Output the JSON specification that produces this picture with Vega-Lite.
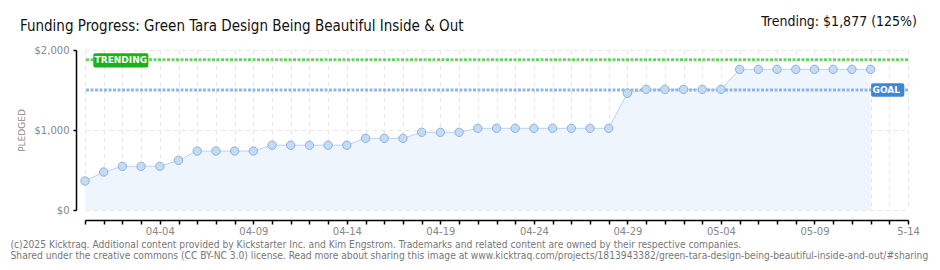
{
  "$schema": "https://vega.github.io/schema/vega-lite/v6.json",
  "width": 823,
  "height": 160,
  "autosize": "none",
  "padding": {"left": 85, "top": 50, "right": 32, "bottom": 60},
  "background": "white",
  "title": {
    "text": "Funding Progress: Green Tara Design Being Beautiful Inside & Out",
    "anchor": "start",
    "frame": "group",
    "dx": -65,
    "offset": -31,
    "baseline": "alphabetic",
    "font": "Liberation Sans Narrow, DejaVu Sans Condensed, sans-serif",
    "fontSize": 15,
    "fontWeight": "normal",
    "color": "#111111"
  },
  "config": {
    "view": {"stroke": null},
    "axis": {"labelFont": "DejaVu Sans", "titleFont": "DejaVu Sans"}
  },
  "datasets": {
    "pledges": [
      {"date": "2025-03-31", "pledged": 362},
      {"date": "2025-04-01", "pledged": 475},
      {"date": "2025-04-02", "pledged": 546},
      {"date": "2025-04-03", "pledged": 546},
      {"date": "2025-04-04", "pledged": 546},
      {"date": "2025-04-05", "pledged": 621},
      {"date": "2025-04-06", "pledged": 737},
      {"date": "2025-04-07", "pledged": 737},
      {"date": "2025-04-08", "pledged": 737},
      {"date": "2025-04-09", "pledged": 737},
      {"date": "2025-04-10", "pledged": 810},
      {"date": "2025-04-11", "pledged": 810},
      {"date": "2025-04-12", "pledged": 810},
      {"date": "2025-04-13", "pledged": 810},
      {"date": "2025-04-14", "pledged": 810},
      {"date": "2025-04-15", "pledged": 896},
      {"date": "2025-04-16", "pledged": 896},
      {"date": "2025-04-17", "pledged": 896},
      {"date": "2025-04-18", "pledged": 971},
      {"date": "2025-04-19", "pledged": 971},
      {"date": "2025-04-20", "pledged": 971},
      {"date": "2025-04-21", "pledged": 1021},
      {"date": "2025-04-22", "pledged": 1021},
      {"date": "2025-04-23", "pledged": 1021},
      {"date": "2025-04-24", "pledged": 1021},
      {"date": "2025-04-25", "pledged": 1021},
      {"date": "2025-04-26", "pledged": 1021},
      {"date": "2025-04-27", "pledged": 1021},
      {"date": "2025-04-28", "pledged": 1021},
      {"date": "2025-04-29", "pledged": 1460},
      {"date": "2025-04-30", "pledged": 1508},
      {"date": "2025-05-01", "pledged": 1508},
      {"date": "2025-05-02", "pledged": 1508},
      {"date": "2025-05-03", "pledged": 1508},
      {"date": "2025-05-04", "pledged": 1508},
      {"date": "2025-05-05", "pledged": 1758},
      {"date": "2025-05-06", "pledged": 1758},
      {"date": "2025-05-07", "pledged": 1758},
      {"date": "2025-05-08", "pledged": 1758},
      {"date": "2025-05-09", "pledged": 1758},
      {"date": "2025-05-10", "pledged": 1758},
      {"date": "2025-05-11", "pledged": 1758},
      {"date": "2025-05-12", "pledged": 1758}
    ],
    "refs": [
      {"name": "Trending", "amount": 1877},
      {"name": "Goal", "amount": 1500}
    ],
    "header": [
      {"label": "Trending: $1,877 (125%)"}
    ],
    "one": [{}]
  },
  "layer": [
    {
      "data": {"name": "pledges"},
      "mark": {"type": "area", "color": "#eef5fd", "opacity": 1},
      "encoding": {
        "x": {
          "field": "date",
          "type": "temporal",
          "scale": {
            "type": "utc",
            "domain": [
              {"year": 2025, "month": 3, "date": 31, "utc": true},
              {"year": 2025, "month": 5, "date": 14, "utc": true}
            ]
          },
          "axis": {
            "offset": 10,
            "tickCount": {"interval": "day", "step": 1},
            "labelExpr": "indexof(['04-04','04-09','04-14','04-19','04-24','04-29','05-04','05-09'], utcFormat(datum.value,'%m-%d')) >= 0 ? utcFormat(datum.value,'%m-%d') : (utcFormat(datum.value,'%m-%d') == '05-14' ? '5-14' : '')",
            "labelOverlap": false,
            "labelFlush": false,
            "labelColor": "#888888",
            "labelFontSize": 10,
            "labelPadding": 2,
            "domainColor": "#000000",
            "domainWidth": 1.5,
            "tickColor": "#000000",
            "tickSize": 4,
            "tickWidth": 1.5,
            "grid": true,
            "gridColor": "#e6e6e6",
            "gridDash": [4, 4],
            "title": [
              "(c)2025 Kicktraq. Additional content provided by Kickstarter Inc. and Kim Engstrom. Trademarks and related content are owned by their respective companies.",
              "Shared under the creative commons (CC BY-NC 3.0) license. Read more about sharing this image at www.kicktraq.com/projects/1813943382/green-tara-design-being-beautiful-inside-and-out/#sharing"
            ],
            "titleAnchor": "start",
            "titleAlign": "left",
            "titleBaseline": "alphabetic",
            "titleX": -75,
            "titleY": 27,
            "titleLineHeight": 11,
            "titleFont": "DejaVu Sans Condensed, DejaVu Sans",
            "titleFontSize": 10.2,
            "titleFontWeight": "normal",
            "titleColor": "#777777"
          }
        },
        "y": {
          "field": "pledged",
          "type": "quantitative",
          "scale": {"domain": [0, 2000], "nice": false, "zero": true},
          "axis": {
            "offset": 9,
            "values": [0, 500, 1000, 1500, 2000],
            "format": "$,d",
            "labelOverlap": false,
            "labelColor": "#888888",
            "labelFontSize": 10,
            "labelPadding": 4,
            "domainColor": "#000000",
            "domainWidth": 1.5,
            "tickColor": "#000000",
            "tickSize": 3,
            "tickWidth": 1.5,
            "grid": true,
            "gridColor": "#e6e6e6",
            "gridDash": [4, 4],
            "title": "PLEDGED",
            "titleColor": "#888888",
            "titleFontSize": 9,
            "titleFontWeight": "normal",
            "titlePadding": 8
          }
        }
      }
    },
    {
      "data": {"name": "pledges"},
      "mark": {"type": "line", "color": "#b8d4f3", "strokeWidth": 1},
      "encoding": {
        "x": {"field": "date", "type": "temporal"},
        "y": {"field": "pledged", "type": "quantitative"}
      }
    },
    {
      "data": {"name": "refs"},
      "mark": {"type": "rule", "strokeWidth": 3, "strokeDash": [3, 1.5]},
      "encoding": {
        "y": {"field": "amount", "type": "quantitative"},
        "color": {
          "field": "name",
          "type": "nominal",
          "scale": {"domain": ["Trending", "Goal"], "range": ["#66d45e", "#94b6de"]},
          "legend": null
        }
      }
    },
    {
      "data": {"name": "pledges"},
      "mark": {"type": "point", "filled": true, "size": 70, "fill": "#c4dbf6", "stroke": "#8fb0d8", "strokeWidth": 1, "opacity": 1},
      "encoding": {
        "x": {"field": "date", "type": "temporal"},
        "y": {"field": "pledged", "type": "quantitative"}
      }
    },
    {
      "data": {"name": "one"},
      "mark": {"type": "rect", "color": "#17b317", "cornerRadius": 2},
      "encoding": {
        "x": {"datum": {"year": 2025, "month": 3, "date": 31, "hours": 10, "minutes": 40, "utc": true}, "type": "temporal"},
        "x2": {"datum": {"year": 2025, "month": 4, "date": 3, "hours": 9, "minutes": 20, "utc": true}},
        "y": {"datum": 1960, "type": "quantitative"},
        "y2": {"datum": 1780}
      }
    },
    {
      "data": {"name": "one"},
      "mark": {"type": "text", "text": "TRENDING", "color": "white", "font": "DejaVu Sans", "fontSize": 9, "fontWeight": "bold", "align": "center", "baseline": "middle"},
      "encoding": {
        "x": {"datum": {"year": 2025, "month": 4, "date": 1, "hours": 22, "utc": true}, "type": "temporal"},
        "y": {"datum": 1870, "type": "quantitative"}
      }
    },
    {
      "data": {"name": "one"},
      "mark": {"type": "rect", "color": "#3c87d6", "cornerRadius": 2},
      "encoding": {
        "x": {"datum": {"year": 2025, "month": 5, "date": 12, "hours": 0, "minutes": 40, "utc": true}, "type": "temporal"},
        "x2": {"datum": {"year": 2025, "month": 5, "date": 13, "hours": 19, "minutes": 15, "utc": true}},
        "y": {"datum": 1584, "type": "quantitative"},
        "y2": {"datum": 1416}
      }
    },
    {
      "data": {"name": "one"},
      "mark": {"type": "text", "text": "GOAL", "color": "white", "font": "DejaVu Sans", "fontSize": 9, "fontWeight": "bold", "align": "left", "baseline": "middle"},
      "encoding": {
        "x": {"datum": {"year": 2025, "month": 5, "date": 12, "hours": 2, "minutes": 30, "utc": true}, "type": "temporal"},
        "y": {"datum": 1495, "type": "quantitative"}
      }
    },
    {
      "data": {"name": "header"},
      "mark": {"type": "text", "align": "right", "baseline": "top", "dx": 9, "font": "Liberation Sans Narrow, DejaVu Sans Condensed, sans-serif", "fontSize": 14, "color": "#111111"},
      "encoding": {
        "text": {"field": "label"},
        "x": {"datum": {"year": 2025, "month": 5, "date": 14, "utc": true}, "type": "temporal"},
        "y": {"datum": 2437, "type": "quantitative"}
      }
    }
  ]
}
